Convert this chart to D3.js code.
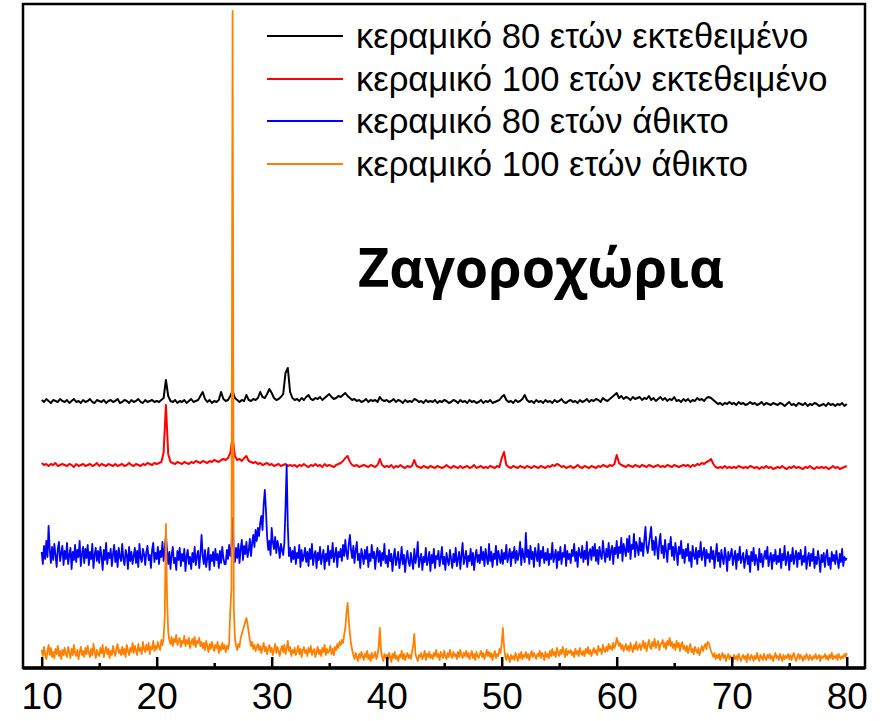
<!DOCTYPE html>
<html><head><meta charset="utf-8">
<script src="https://cdn.jsdelivr.net/npm/d3@7"></script>
<style>body{margin:0;background:#fff}</style>
</head><body><svg id="c" width="884" height="721"></svg>
<script>
// ---- DATA ----
const seriesNames = ["κεραμικό 80 ετών εκτεθειμένο","κεραμικό 100 ετών εκτεθειμένο","κεραμικό 80 ετών άθικτο","κεραμικό 100 ετών άθικτο"];
const seriesColors = ["#000000","#ff0000","#0000ff","#ff8000"];
const titleText = "Ζαγοροχώρια";
const xTicks = [10,20,30,40,50,60,70,80];
const xMinorTicks = [15,25,35,45,55,65,75];
const twoThetaStart = 10;
const seriesSteps = [0.2, 0.2, 0.1, 0.1]; // sampling step (°2θ) of each series
// intensities (offset, a.u.)
const black80 = [
268,266,269,267,265,268,267,266,269,267,
266,268,265,267,269,266,267,265,268,266,
267,269,266,265,268,267,266,268,265,267,
268,266,267,269,265,266,268,267,265,268,
266,267,269,266,265,268,266,267,268,266,
267,266,268,270,288,272,267,266,268,265,
267,266,268,265,267,269,266,267,268,272,
276,269,266,268,265,267,266,268,276,269,
267,268,272,277,270,268,266,268,267,273,
268,267,269,268,270,276,271,270,274,279,
275,270,268,269,271,274,295,300,276,270,
268,269,267,270,268,271,273,269,268,270,
269,271,268,270,272,274,271,269,270,272,
271,273,275,272,270,268,269,267,268,266,
267,269,266,268,267,268,266,271,268,267,
268,266,267,269,266,268,267,265,268,266,
267,266,269,268,266,267,265,268,266,267,
266,268,265,267,266,268,267,265,266,268,
267,265,268,266,267,265,268,266,267,265,
266,268,265,267,266,268,265,266,267,268,
271,273,268,266,267,265,268,266,267,269,
273,268,266,267,265,268,266,267,265,268,
266,267,265,268,266,267,269,266,265,267,
268,266,267,265,268,266,267,269,266,268,
267,269,268,266,270,268,267,269,271,273,
275,270,272,269,271,270,268,271,269,270,
271,268,270,269,272,268,270,267,269,271,
268,270,267,269,268,271,267,268,266,269,
267,269,266,268,267,270,268,269,267,270,
271,270,268,266,264,265,263,265,264,266,
264,265,263,266,264,265,263,264,266,264,
265,263,264,266,263,265,264,263,265,264,
263,265,264,262,264,266,263,264,262,265,
264,263,265,262,264,263,265,264,262,263,
264,262,265,263,264,262,264,263,265,262,
264];
const red100 = [
205,203,204,202,204,203,205,202,203,204,
203,202,204,203,201,204,202,203,204,202,
203,204,202,203,205,202,204,203,202,204,
203,202,204,202,203,204,202,203,205,203,
202,204,203,202,204,203,205,204,203,205,
204,205,206,215,263,214,206,205,204,206,
205,204,206,205,204,206,205,207,206,205,
207,206,205,207,206,208,207,206,208,209,
208,210,215,231,212,208,209,207,210,212,
207,206,205,206,204,205,203,204,205,203,
204,202,203,204,202,203,204,202,203,202,
203,201,203,202,204,202,201,203,202,204,
202,203,201,204,202,203,202,201,203,204,
205,207,210,212,206,203,202,203,201,202,
203,202,201,203,202,201,203,209,203,201,
202,201,203,200,202,201,203,201,200,202,
201,202,208,202,201,200,202,201,200,202,
201,200,202,201,200,201,203,201,200,202,
201,200,202,200,201,202,200,201,203,200,
201,202,200,201,200,202,201,200,202,201,
210,216,203,201,200,202,201,200,202,201,
200,202,201,200,202,201,200,202,201,200,
202,201,203,202,204,203,201,202,200,201,
202,200,201,203,201,200,202,201,200,202,
201,200,202,201,203,202,201,203,202,204,
213,205,203,202,201,203,202,201,203,202,
201,203,202,201,203,202,201,202,203,201,
202,201,203,202,201,203,202,201,202,203,
202,203,201,203,202,204,203,205,204,206,
207,209,204,201,200,201,200,202,200,201,
200,201,200,202,201,200,201,200,202,201,
200,201,199,201,200,202,200,201,199,200,
201,200,202,200,199,201,200,202,200,201,
200,199,201,200,202,200,199,201,200,201,
200,201,199,200,202,200,201,199,200,201,
202];
const blue80 = [
116,104,122,109,127,111,142,118,105,121,
108,124,113,101,119,126,107,115,122,103,
117,109,125,104,113,120,99,116,108,123,
106,118,111,127,102,114,121,105,119,110,
123,103,116,109,124,100,113,120,107,117,
105,121,112,98,118,108,125,104,115,110,
119,102,114,123,106,117,101,120,111,107,
124,109,103,118,113,99,121,107,116,104,
112,120,105,117,101,124,110,106,119,114,
103,116,122,108,113,100,118,125,106,115,
109,121,104,117,111,126,107,119,133,118,
104,116,99,113,121,105,110,98,117,108,
120,102,114,107,119,97,112,118,104,111,
99,115,106,121,103,112,117,100,114,133,
112,104,118,101,110,120,98,113,107,116,
102,119,108,114,100,117,105,121,110,104,
104,118,109,123,112,121,150,117,106,120,
110,124,105,119,128,108,122,114,126,111,
118,129,112,125,133,121,138,127,140,132,
145,152,138,163,178,158,131,118,127,113,
140,126,119,131,115,127,121,110,124,118,
113,125,160,203,142,112,120,106,117,109,
121,104,115,110,123,101,118,107,112,120,
106,116,102,119,109,124,103,113,117,100,
115,108,121,104,112,118,99,114,107,122,
103,117,110,125,106,113,120,101,116,111,
119,107,123,112,128,115,109,124,133,118,
110,122,105,117,126,108,114,100,119,112,
104,118,109,121,101,114,107,123,110,116,
99,113,120,106,117,102,115,108,124,105,
112,101,118,107,114,97,111,119,103,109,
116,100,108,121,104,113,96,110,117,106,
102,115,107,99,119,105,112,126,101,109,
114,98,111,106,120,103,108,116,97,113,
105,119,100,112,109,117,102,110,121,104,
111,98,115,107,103,118,109,100,114,106,
120,102,109,116,99,113,125,104,110,117,
101,112,107,119,103,115,98,111,118,106,
113,105,121,108,116,102,119,110,104,124,
107,116,101,114,109,122,103,117,111,105,
118,104,115,109,123,106,112,119,102,116,
110,121,105,117,108,114,126,103,119,112,
106,135,111,118,104,122,109,116,101,120,
113,107,124,102,117,110,121,105,115,108,
119,103,114,109,125,106,112,118,100,116,
108,121,104,115,111,123,102,117,109,114,
105,118,112,124,107,116,101,120,113,110,
122,106,117,109,126,103,115,119,108,121,
112,124,107,118,104,121,113,109,127,115,
106,119,111,125,108,117,122,104,120,114,
127,110,121,115,130,107,124,118,112,129,
116,132,109,123,119,134,111,126,121,113,
130,117,125,112,128,141,121,115,124,133,
141,118,127,113,131,120,109,126,134,115,
122,110,128,117,106,124,119,131,112,121,
108,125,116,103,121,114,127,110,118,105,
119,112,124,107,116,101,122,113,109,120,
104,117,111,126,108,115,120,102,118,110,
114,106,121,109,117,100,113,124,107,115,
101,118,110,104,120,112,97,116,108,113,
119,103,111,117,99,114,108,121,105,110,
115,100,109,118,104,112,96,116,107,120,
103,113,108,98,119,106,114,101,111,117,
109,121,102,110,115,99,113,107,118,104,
112,106,119,100,114,108,122,103,110,116,
98,113,107,120,104,111,117,101,115,109,
118,103,112,106,121,99,110,115,102,114,
107,119,100,111,104,117,109,96,113,106,
115,101,112,118,103,110,99,116,107,113,
104,117,108,100,114,106,119,102,111,108,
110];
const orange100 = [
18,12,21,14,9,17,23,13,20,11,
16,10,19,14,22,12,17,9,18,13,
20,14,11,21,16,10,19,13,23,15,
12,18,9,16,21,13,17,11,20,14,
22,15,11,19,13,24,16,10,18,14,
12,20,15,23,11,17,21,14,19,10,
17,13,22,16,12,20,24,15,18,13,
21,14,19,11,23,17,13,20,16,25,
15,22,18,13,24,17,20,14,26,19,
16,23,18,25,14,21,19,27,17,22,
19,26,21,18,28,23,30,52,144,70,
36,28,24,31,22,29,26,33,23,27,
30,21,27,25,32,22,28,24,30,20,
26,29,23,31,21,27,25,30,22,26,
20,25,18,27,22,16,24,19,26,21,
17,23,20,26,15,22,18,25,19,23,
16,22,19,25,58,80,657,60,30,22,
18,24,21,30,34,38,42,46,50,44,
36,28,22,26,19,23,17,21,24,18,
22,15,20,25,17,21,14,19,23,16,
20,13,18,24,15,21,17,12,19,22,
16,23,14,19,27,17,21,12,18,15,
20,13,17,22,14,19,11,18,21,15,
18,12,20,16,22,13,17,19,11,16,
21,14,18,12,20,16,23,13,19,15,
17,22,14,19,13,21,18,24,20,26,
23,28,25,33,40,55,65,48,34,24,
18,13,9,15,11,7,14,10,16,12,
8,14,11,17,9,13,7,15,10,12,
16,9,13,21,40,18,11,7,14,10,
13,8,15,11,6,14,10,16,9,12,
7,13,11,17,9,14,8,12,15,10,
13,9,16,22,34,14,10,7,13,11,
15,9,12,17,8,14,11,16,10,13,
9,15,12,18,11,14,8,16,13,10,
17,12,9,15,11,18,13,10,16,12,
14,9,16,11,18,13,10,15,12,17,
11,15,9,13,17,10,14,8,16,12,
10,14,17,11,15,9,13,18,12,16,
11,15,8,13,17,10,14,12,19,15,
25,40,22,12,8,14,10,6,13,9,
12,8,15,11,7,14,10,16,9,13,
11,16,10,14,8,13,17,11,15,12,
9,14,12,17,10,15,13,8,16,11,
14,10,17,12,19,13,16,11,20,15,
12,18,14,21,16,11,19,13,17,15,
18,13,16,11,19,14,17,12,20,15,
13,17,12,19,15,21,14,18,12,16,
20,15,18,13,22,17,19,14,23,18,
16,21,17,24,19,22,18,25,20,23,
30,26,22,25,19,23,17,21,24,18,
22,17,25,20,16,23,19,26,18,21,
24,18,22,27,20,25,17,23,28,21,
19,26,22,29,20,24,27,18,23,25,
28,21,25,19,27,23,30,22,26,20,
24,18,27,21,25,17,23,26,19,22,
17,22,15,20,24,16,19,14,21,18,
15,20,13,18,22,17,21,24,19,26,
25,21,17,14,11,15,9,13,10,14,
8,12,15,10,13,7,11,14,9,12,
10,6,13,9,12,8,14,10,7,11,
13,9,12,6,14,10,8,13,11,7,
12,9,15,10,7,13,11,8,14,10,
8,13,10,14,9,12,7,11,15,10,
12,8,14,11,7,13,9,12,10,14,
9,13,8,12,15,10,7,11,14,9,
13,10,7,12,9,14,11,8,13,10,
8,12,10,14,9,11,13,7,12,10,
11,14,9,12,8,13,10,15,9,12,
10,13,8,14,11,9,12,10,14,11,
15];
const seriesValues = [black80, red100, blue80, orange100];
const seriesWidths = [2, 2, 1.8, 1.8];

// ---- CHART ----
const svg = d3.select("#c");
const frame = {left:23, right:865, top:4, bottom:668};
const x = d3.scaleLinear().domain([8.374, 81.59]).range([frame.left, frame.right]);
const y = d3.scaleLinear().domain([0, 664]).range([frame.bottom, frame.top]);

seriesValues.forEach((vals,k)=>{
  const step = seriesSteps[k];
  const line = d3.line().x((d,i)=>x(twoThetaStart + i*step)).y(d=>y(d));
  svg.append("path").datum(vals).attr("d", line)
    .attr("fill","none").attr("stroke", seriesColors[k])
    .attr("stroke-width",seriesWidths[k]).attr("stroke-linejoin","round");
});

// frame
svg.append("rect").attr("x",frame.left).attr("y",frame.top)
  .attr("width",frame.right-frame.left).attr("height",frame.bottom-frame.top)
  .attr("fill","none").attr("stroke","#000").attr("stroke-width",2.5);
svg.append("line").attr("x1",frame.left).attr("x2",frame.right)
  .attr("y1",frame.bottom).attr("y2",frame.bottom)
  .attr("stroke","#000").attr("stroke-width",3.5);

// axes
const gx = svg.append("g").attr("transform",`translate(0,${frame.bottom})`)
  .call(d3.axisBottom(x).tickValues(xTicks).tickSize(-11).tickPadding(15).tickFormat(d3.format("d")));
gx.select(".domain").remove();
gx.selectAll(".tick line").attr("stroke","#000").attr("stroke-width",2.5);
gx.selectAll(".tick text").attr("font-family","Liberation Sans, Arial, sans-serif")
  .attr("font-size",37).attr("fill","#000");
const gm = svg.append("g").attr("transform",`translate(0,${frame.bottom})`)
  .call(d3.axisBottom(x).tickValues(xMinorTicks).tickSize(-5).tickFormat(""));
gm.select(".domain").remove();
gm.selectAll(".tick line").attr("stroke","#000").attr("stroke-width",2.5);

// legend
const legendRows = [36, 79, 121, 164];
seriesNames.forEach((name,k)=>{
  const g = svg.append("g");
  g.append("line").attr("x1",267).attr("x2",343).attr("y1",legendRows[k]).attr("y2",legendRows[k])
    .attr("stroke",seriesColors[k]).attr("stroke-width",1.8);
  g.append("text").attr("x",356).attr("y",legendRows[k]+12)
    .attr("font-family","Liberation Sans, Arial, sans-serif").attr("font-size",34.6)
    .attr("fill","#000").text(name);
});

// title
svg.append("text").attr("x",541).attr("y",287).attr("text-anchor","middle")
  .attr("font-family","Open Sans, Noto Sans, sans-serif").attr("font-weight","bold")
  .attr("font-size",54).attr("fill","#000").text(titleText);
</script></body></html>
